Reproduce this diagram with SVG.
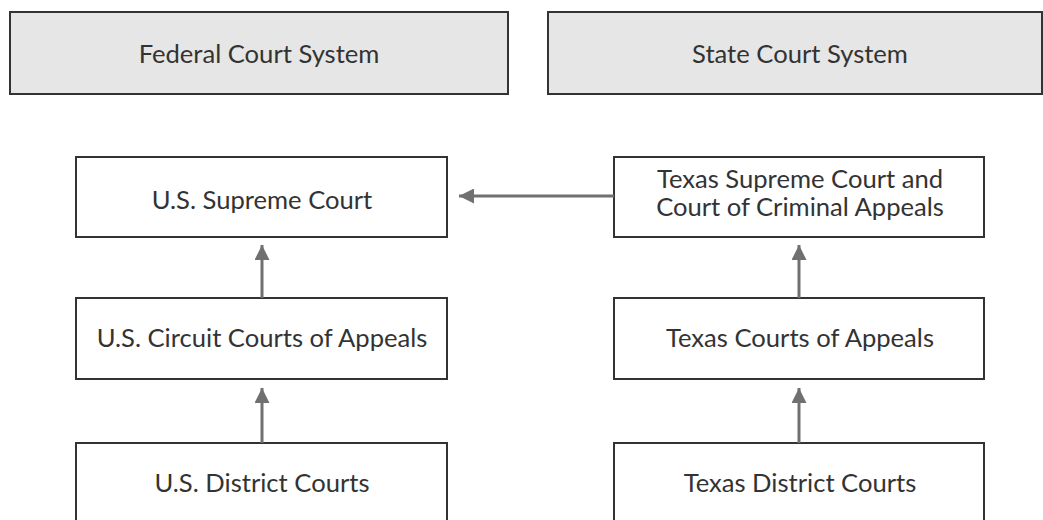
<svg xmlns="http://www.w3.org/2000/svg" width="1043" height="520" viewBox="0 0 1043 520">
<defs>
<style>
.hdr{fill:#e6e6e6;stroke:#333;stroke-width:2}
.box{fill:#fff;stroke:#333;stroke-width:2}
text{font-family:Lato,"Open Sans",sans-serif;font-size:25.6px;fill:#333;text-anchor:middle}
.conn{stroke:#707070;stroke-width:3;fill:none}
</style>
<marker id="ah" viewBox="0 0 10 10" refX="10" refY="5" markerWidth="6.5" markerHeight="5" markerUnits="strokeWidth" orient="auto">
<path d="M0,0 L10,5 L0,10 Z" fill="#707070"/>
</marker>
</defs>
<rect width="1043" height="520" fill="#fff"/>
<g id="federal-header"><rect class="hdr" x="10" y="12" width="498" height="82"/><text x="259" y="63">Federal Court System</text></g>
<g id="state-header"><rect class="hdr" x="548" y="12" width="494" height="82"/><text x="800" y="63">State Court System</text></g>
<g id="us-supreme"><rect class="box" x="76" y="157" width="371" height="80"/><text x="262" y="209">U.S. Supreme Court</text></g>
<g id="tx-supreme"><rect class="box" x="614" y="157" width="370" height="80"/><text x="800" y="188">Texas Supreme Court and</text><text x="800" y="216">Court of Criminal Appeals</text></g>
<g id="us-circuit"><rect class="box" x="76" y="298" width="371" height="81"/><text x="262" y="347">U.S. Circuit Courts of Appeals</text></g>
<g id="tx-appeals"><rect class="box" x="614" y="298" width="370" height="81"/><text x="800" y="347">Texas Courts of Appeals</text></g>
<g id="us-district"><rect class="box" x="76" y="443" width="371" height="90"/><text x="262" y="492">U.S. District Courts</text></g>
<g id="tx-district"><rect class="box" x="614" y="443" width="370" height="90"/><text x="800" y="492">Texas District Courts</text></g>
<g id="connectors">
<line class="conn" x1="614" y1="196" x2="459" y2="196" marker-end="url(#ah)"/>
<line class="conn" x1="262" y1="298" x2="262" y2="245" marker-end="url(#ah)"/>
<line class="conn" x1="262" y1="443" x2="262" y2="388" marker-end="url(#ah)"/>
<line class="conn" x1="799" y1="298" x2="799" y2="245" marker-end="url(#ah)"/>
<line class="conn" x1="799" y1="443" x2="799" y2="388" marker-end="url(#ah)"/>
</g>
</svg>
